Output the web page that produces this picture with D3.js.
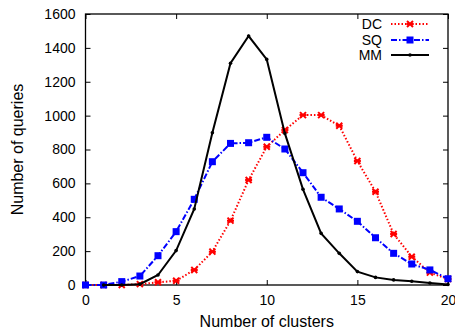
<!DOCTYPE html>
<html><head><meta charset="utf-8">
<script src="https://cdn.jsdelivr.net/npm/d3@7"></script>
<style>body{margin:0;background:#fff}text{font-family:"Liberation Sans",Arial,sans-serif;fill:#000}</style>
</head><body><svg id="c" width="455" height="332"></svg>
<script>
const clusters = d3.range(0, 21);
const dcValues = [0, 0, 0, 5, 16, 25, 89, 197, 380, 620, 816, 915, 1003, 1003, 940, 732, 551, 301, 167, 73, 35];
const sqValues = [0, 0, 20, 53, 173, 315, 506, 728, 836, 840, 872, 803, 663, 518, 449, 376, 279, 187, 124, 89, 37];
const mmValues = [null, 0, 0, 5, 59, 203, 449, 899, 1309, 1470, 1332, 895, 565, 305, 187, 79, 45, 30, 22, 12, 3];
const xTicks = [0, 5, 10, 15, 20];
const yTicks = [0, 200, 400, 600, 800, 1000, 1200, 1400, 1600];
const seriesNames = ["DC", "SQ", "MM"];

const svg = d3.select("#c");
const L = 85.5, R = 448, T = 14, B = 285;
const x = d3.scaleLinear().domain([0, 20]).range([L, R]);
const y = d3.scaleLinear().domain([0, 1600]).range([B, T]);

const fs = 14;
const fmt = d3.format("d");
const gx = svg.append("g").attr("transform", `translate(0,${B})`)
  .call(d3.axisBottom(x).tickValues(xTicks).tickSize(-5).tickPadding(10).tickFormat(fmt));
const gxt = svg.append("g").attr("transform", `translate(0,${T})`)
  .call(d3.axisTop(x).tickValues(xTicks).tickSize(-5).tickFormat(""));
const gy = svg.append("g").attr("transform", `translate(${L},0)`)
  .call(d3.axisLeft(y).tickValues(yTicks).tickSize(-5).tickPadding(10).tickFormat(fmt));
const gyr = svg.append("g").attr("transform", `translate(${R},0)`)
  .call(d3.axisRight(y).tickValues(yTicks).tickSize(-5).tickFormat(""));
[gx, gxt, gy, gyr].forEach(g => {
  g.select(".domain").remove();
  g.selectAll("line").attr("stroke", "#000").attr("stroke-width", 1);
  g.selectAll("text").attr("font-size", fs).attr("font-family", "Liberation Sans, Arial, sans-serif").attr("fill", "#000");
});
svg.append("rect").attr("x", L).attr("y", T).attr("width", R - L).attr("height", B - T)
  .attr("fill", "none").attr("stroke", "#000").attr("stroke-width", 1.3);

svg.append("text").attr("x", (L + R) / 2).attr("y", 327).attr("text-anchor", "middle")
  .attr("font-size", 16).text("Number of clusters");
svg.append("text").attr("transform", `translate(23,${(T + B) / 2}) rotate(-90)`)
  .attr("text-anchor", "middle").attr("font-size", 16).text("Number of queries");

const series = [
  {name: "DC", vals: dcValues, color: "#ff0000", dash: "1.5,2", marker: "x"},
  {name: "SQ", vals: sqValues, color: "#0000ff", dash: "6,2,1.5,2", marker: "sq"},
  {name: "MM", vals: mmValues, color: "#000000", dash: null, marker: "dot"}
];

const line = d3.line().defined(d => d[1] != null).x(d => x(d[0])).y(d => y(d[1]));

function drawMarker(g, type, cx, cy, color) {
  if (type === "x") {
    g.append("path").attr("d", `M${cx-3},${cy-3}L${cx+3},${cy+3}M${cx-3},${cy+3}L${cx+3},${cy-3}M${cx-3.5},${cy}L${cx+3.5},${cy}`)
      .attr("stroke", color).attr("stroke-width", 2);
  } else if (type === "sq") {
    g.append("rect").attr("x", cx - 3.5).attr("y", cy - 3.5).attr("width", 7).attr("height", 7).attr("fill", color);
  } else {
    g.append("circle").attr("cx", cx).attr("cy", cy).attr("r", 1.8).attr("fill", color);
  }
}

series.forEach(s => {
  const pts = clusters.map((c, i) => [c, s.vals[i]]);
  const g = svg.append("g");
  g.append("path").datum(pts).attr("d", line).attr("fill", "none")
    .attr("stroke", s.color).attr("stroke-width", 2)
    .attr("stroke-dasharray", s.dash);
  pts.filter(p => p[1] != null).forEach(p => drawMarker(g, s.marker, x(p[0]), y(p[1]), s.color));
});

const legY = [24, 40, 55];
series.forEach((s, i) => {
  const g = svg.append("g");
  g.append("text").attr("x", 382).attr("y", legY[i]).attr("dy", "0.35em").attr("text-anchor", "end")
    .attr("font-size", fs).text(s.name);
  g.append("line").attr("x1", 391).attr("x2", 429).attr("y1", legY[i]).attr("y2", legY[i])
    .attr("stroke", s.color).attr("stroke-width", 2).attr("stroke-dasharray", s.dash);
  drawMarker(g, s.marker, 410, legY[i], s.color);
});
</script></body></html>
